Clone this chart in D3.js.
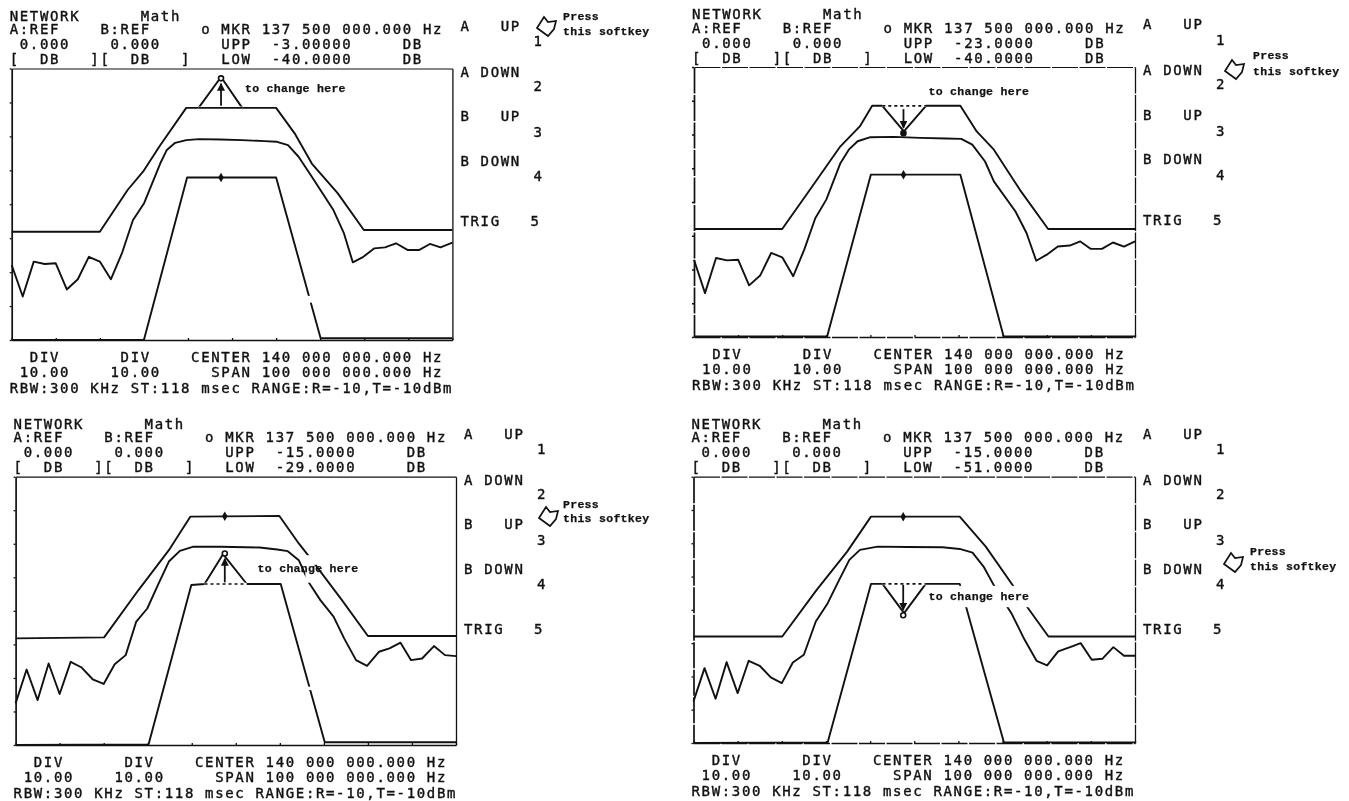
<!DOCTYPE html>
<html>
<head>
<meta charset="utf-8">
<script src="https://cdn.jsdelivr.net/npm/d3@7"></script>
<style>
  html, body { margin: 0; background: #fff; }
  svg { display: block; filter: blur(0.45px); }
  text { white-space: pre; fill: #111; }
  .crt { font-family: "DejaVu Sans Mono", monospace; font-size: 14px; letter-spacing: 1.65px; stroke: #111; stroke-width: 0.4px; }
  .note { font-family: "Liberation Mono", monospace; font-size: 11.5px; font-weight: bold; letter-spacing: 0.3px; stroke: #111; stroke-width: 0.25px; }
</style>
</head>
<body>
<div id="vis"></div>
<script>
// x = MHz (center 140, span 100), y = dB (10 dB/div, 8 div)
var upper1 = [[90,-48.1],[110,-48.1],[116.3,-35.8],[119.8,-30.4],[123.7,-22.6],[129.6,-11.6],[132.4,-11.6],[137.5,-2.5],[142.3,-11.6],[150,-11.6],[154.2,-19.1],[158.1,-28],[164,-36.8],[169.9,-47.6],[190,-47.6]];
var middle1 = [[90,-57.9],[92.5,-67.2],[95,-56.9],[97.5,-57.6],[100,-57.4],[102.5,-65.1],[105,-62.1],[107.5,-55.5],[110,-56.9],[112.5,-62.1],[115,-54.5],[117.5,-44.7],[120,-39.8],[123.7,-28],[125.2,-24],[127.1,-21.9],[129.6,-21.1],[132.5,-20.8],[137.4,-20.9],[142.3,-21.1],[147.3,-21.4],[150.2,-21.6],[152.7,-22.6],[155.1,-26],[158.1,-31.9],[163,-41.7],[165.4,-48.6],[167.4,-57.1],[169.8,-55.5],[172.3,-53],[174.7,-52.7],[177.2,-51.5],[179.9,-53.5],[182.4,-53.5],[184.9,-51.7],[187.3,-52.7],[190,-51.3]];
var lower1 = [[90,-80],[120,-80],[129.8,-32.1],[150,-32.1],[160.1,-79.5],[190,-79.5]];

var upper2 = [[90,-48],[110,-48],[116.8,-35.4],[123.2,-23.5],[127.6,-17.6],[130.4,-11.5],[132.7,-11.5],[137.6,-19.1],[142.6,-11.5],[150.4,-11.5],[154.1,-19.1],[158,-24.5],[163.9,-36.4],[170.3,-48],[190,-48]];
var middle2 = [[90,-57.1],[92.5,-67],[95,-56.6],[97.5,-57.3],[100,-57.1],[102.5,-64.7],[105,-61.8],[107.5,-55.1],[110,-56.4],[112.5,-62],[115,-54.1],[117.5,-44.8],[120,-39.3],[123.2,-28.5],[125.1,-24.5],[127.1,-22],[130,-20.8],[135.4,-20.7],[141.3,-21],[147.2,-21.2],[150.6,-21.3],[153.1,-23],[156,-28],[158,-33.9],[162.9,-42.8],[165.4,-49.2],[167.6,-57.4],[170,-55.6],[172.5,-53.2],[175.2,-52.9],[177.6,-51.7],[180,-53.9],[182.5,-53.9],[185,-52],[187.5,-53.2],[190,-51.7]];
var lower2 = [[90,-79.8],[120.2,-79.8],[130.1,-31.9],[150.4,-31.9],[160.2,-79.8],[190,-79.8]];

var upper3 = [[90,-48.2],[110.1,-47.9],[117.9,-33.8],[124.8,-21.9],[129.7,-11.9],[149.9,-11.7],[154.3,-19.9],[156.7,-23.9],[164.1,-36.8],[170,-47.5],[190,-47.5]];
var middle3 = [[90,-67.6],[92.5,-57.5],[95,-66.6],[97.5,-55.7],[100,-64.8],[102.5,-55.2],[105,-56.9],[107.5,-60.4],[110,-61.8],[112.5,-55.9],[115,-53.2],[117.4,-43.2],[119.9,-39.3],[122.3,-32.3],[124.8,-25.3],[127.3,-22.1],[130.2,-20.9],[136.6,-20.9],[145.4,-21.1],[149.4,-21.7],[151.8,-22.2],[154.3,-24.9],[156.7,-31.8],[159.2,-36.8],[162.2,-41.7],[164.6,-48.2],[167.3,-54.7],[169.8,-56.4],[172.5,-52.2],[174.9,-51.2],[177.4,-49.5],[179.8,-54.7],[182.3,-54.2],[185,-50.5],[187.5,-53.2],[190,-53.5]];
var lower3 = [[90,-80],[120.2,-79.8],[129.9,-32.3],[132.9,-32],[137.1,-23.1],[142.5,-32],[150.2,-32],[160.2,-79.2],[190,-79.2]];

var upper4 = [[90,-48],[110.1,-48],[117.9,-34],[124.8,-22.5],[130.2,-12],[150.3,-12],[156.2,-21],[162.5,-33],[165.5,-39],[170.4,-48],[190,-48]];
var middle4 = [[90,-67.5],[92.5,-57.5],[95,-66.7],[97.5,-55.7],[100,-65],[102.5,-55.3],[105,-56.8],[107.5,-60.3],[110,-62],[112.5,-55.8],[115,-53.5],[117.7,-43.5],[120.4,-38],[122.8,-31.5],[125.3,-25],[127.7,-22],[131.7,-21],[138.5,-21.1],[146.4,-21.2],[150.3,-21.7],[153.2,-22.8],[155.7,-27],[158.6,-34],[162,-41],[165,-49],[167.7,-55.3],[170.1,-56.7],[172.6,-52.5],[175.3,-51.2],[177.7,-50],[180.2,-55],[182.6,-54.7],[185.1,-51.2],[187.5,-53.8],[190,-53.8]];
var lower4 = [[90,-80],[120.4,-79.8],[130.2,-32.2],[132.8,-32.2],[137.7,-41],[142.6,-32.2],[150.3,-32.2],[160.3,-79.8],[190,-79.8]];

var upperLimits = ['-3.00000', '-23.0000', '-15.0000', '-15.0000'];
var lowerLimits = ['-40.0000', '-40.0000', '-29.0000', '-51.0000'];
var softkeys = ['A   UP', 'A DOWN', 'B   UP', 'B DOWN'];

// start dB, end dB of the arrow, marker dB on the other limit line
var arrow1 = [-11, -4.5], arrow2 = [-12.5, -18], arrow3 = [-31.5, -24.5], arrow4 = [-32.5, -40];
var marker1 = -32.1, marker2 = -31.9, marker3 = -11.8, marker4 = -12;
// parts of the paper whited out: [MHz from, MHz to, dB top, dB bottom]
var gaps1 = [[156, 159, -67, -69]];
var gaps2 = [];
var gaps3 = [[155.3, 158.2, -23.4, -26.3], [155.8, 157.5, -27.8, -31.6], [155.5, 158.5, -62.6, -63.6]];
var gaps4 = [[143.4, 167, -32.8, -39.2]];

var panels = [
  { left: 11.7, right: 452.4, top: 68.5, bottom: 340, upper: upper1, middle: middle1, lower: lower1, arrow: arrow1, marker: marker1, gaps: gaps1,
    note: [245, 92], press: [563, 20, 35], icon: [546, 27], frameDash: null },
  { left: 694, right: 1135, top: 67, bottom: 337, upper: upper2, middle: middle2, lower: lower2, arrow: arrow2, marker: marker2, gaps: gaps2,
    note: [928.5, 95], press: [1253, 59, 75], icon: [1234, 70], frameDash: '26 1.5' },
  { left: 15.6, right: 456, top: 476.7, bottom: 745, upper: upper3, middle: middle3, lower: lower3, arrow: arrow3, marker: marker3, gaps: gaps3,
    note: [257.6, 572], press: [563, 508, 522], icon: [548, 517], frameDash: null },
  { left: 693.5, right: 1135, top: 476.7, bottom: 743, upper: upper4, middle: middle4, lower: lower4, arrow: arrow4, marker: marker4, gaps: gaps4,
    note: [928.5, 600], press: [1250, 555, 570], icon: [1233, 563], frameDash: '26 1.5' }
];

var ink = '#111';
var markerMHz = 137.5;

var svg = d3.select('#vis').append('svg')
  .attr('width', 1349)
  .attr('height', 801);

svg.append('defs').append('marker')
  .attr('id', 'head')
  .attr('viewBox', '0 0 8 8')
  .attr('refX', 7).attr('refY', 4)
  .attr('markerWidth', 8).attr('markerHeight', 8)
  .attr('markerUnits', 'userSpaceOnUse')
  .attr('orient', 'auto')
  .append('path').attr('d', 'M0,0L8,4L0,8Z').attr('fill', ink);

function label(g, x, y, str, cls) {
  return g.append('text').attr('class', cls || 'crt').attr('x', x).attr('y', y).text(str);
}

function drawPanel(p, i) {
  var g = svg.append('g').attr('class', 'panel');

  var x = d3.scaleLinear().domain([90, 190]).range([p.left, p.right]);
  var y = d3.scaleLinear().domain([0, -80]).range([p.top, p.bottom]);

  var line = d3.line().x(function(d) { return x(d[0]); }).y(function(d) { return y(d[1]); });

  // frame, the graticule only shows as small bumps on the left and bottom
  var dbTicks = d3.range(-80, 1, 10);
  var mhzTicks = d3.range(90, 191, 10);
  [[d3.axisLeft(y).tickValues(dbTicks).tickSize(2), p.left, 0, 1.7],
   [d3.axisRight(y).tickValues([]), p.right, 0, 1.3],
   [d3.axisTop(x).tickValues([]), 0, p.top, 1.2],
   [d3.axisBottom(x).tickValues(mhzTicks).tickSize(-2), 0, p.bottom, 1.5]].forEach(function(a) {
    var ag = g.append('g')
      .attr('transform', 'translate(' + a[1] + ',' + a[2] + ')')
      .call(a[0].tickFormat('').tickSizeOuter(0));
    ag.select('.domain').attr('stroke', ink).attr('stroke-width', a[3]).attr('stroke-dasharray', p.frameDash);
    ag.selectAll('.tick line').attr('stroke', ink).attr('stroke-width', 1.3);
  });

  [p.upper, p.middle, p.lower].forEach(function(t) {
    g.append('path').attr('d', line(t))
      .attr('fill', 'none').attr('stroke', ink)
      .attr('stroke-width', 1.9).attr('stroke-linejoin', 'round');
  });

  // dotted stretch left behind where the limit line was moved
  var moved = [p.upper, p.upper, p.lower, p.lower][i];
  var flat = moved.filter(function(d) { return Math.abs(d[0] - markerMHz) < 6 && Math.abs(d[0] - markerMHz) > 3; });
  g.append('path').attr('d', line(flat))
    .attr('fill', 'none').attr('stroke', '#fff').attr('stroke-width', 2.6);
  g.append('path').attr('d', line(flat))
    .attr('fill', 'none').attr('stroke', ink)
    .attr('stroke-width', 1.7).attr('stroke-dasharray', i == 0 ? null : '3 3');

  g.selectAll('rect.gap').data(p.gaps).enter().append('rect')
    .attr('class', 'gap')
    .attr('x', function(d) { return x(d[0]); })
    .attr('width', function(d) { return x(d[1]) - x(d[0]); })
    .attr('y', function(d) { return y(d[2]); })
    .attr('height', function(d) { return y(d[3]) - y(d[2]); })
    .attr('fill', '#fff');

  // arrow and open marker on the limit being changed
  g.append('line')
    .attr('x1', x(markerMHz)).attr('x2', x(markerMHz))
    .attr('y1', y(p.arrow[0])).attr('y2', y(p.arrow[1]))
    .attr('stroke', ink).attr('stroke-width', 1.8)
    .attr('marker-end', 'url(#head)');
  g.append('circle')
    .attr('cx', x(markerMHz)).attr('cy', y(p.arrow[1] + (p.arrow[1] > p.arrow[0] ? 1.6 : -1.6)))
    .attr('r', 2.5).attr('fill', i == 1 ? ink : '#fff').attr('stroke', ink).attr('stroke-width', 1.6);
  g.append('path')
    .attr('d', d3.symbol(d3.symbolDiamond, 26)())
    .attr('transform', 'translate(' + x(markerMHz) + ',' + y(p.marker) + ')')
    .attr('fill', ink);

  // screen text, 10 px character cell
  var rows = [
    ['NETWORK      Math', -48],
    ['A:REF    B:REF     o MKR 137 500 000.000 Hz', -34.5],
    [' 0.000    0.000      UPP  ' + upperLimits[i] + '     DB', -19.5],
    ['[  DB   ][  DB   ]   LOW  ' + lowerLimits[i] + '     DB', -4.5]
  ];
  rows.forEach(function(r) { label(g, p.left - 2, p.top + r[1], r[0]); });

  var foot = [
    ['  DIV      DIV    CENTER 140 000 000.000 Hz', 22],
    [' 10.00    10.00     SPAN 100 000 000.000 Hz', 37],
    ['RBW:300 KHz ST:118 msec RANGE:R=-10,T=-10dBm', 52.5]
  ];
  foot.forEach(function(r) { label(g, p.left - 2, p.bottom + r[1], r[0]); });

  // softkey column
  var keyX = p.right + 8;
  softkeys.forEach(function(k, j) {
    label(g, keyX, p.top + [-38, 8, 52.5, 97][j], k);
    label(g, keyX + 73, p.top + [-22.5, 22, 68.5, 112.5][j], String(j + 1));
  });
  label(g, keyX, p.top + 157.5, 'TRIG');
  label(g, keyX + 70, p.top + 157.5, '5');

  // notes pasted on the plot
  label(g, p.note[0], p.note[1], 'to change here', 'note');
  label(g, p.press[0], p.press[1], 'Press', 'note');
  label(g, p.press[0], p.press[2], 'this softkey', 'note');
  g.append('path')
    .attr('d', 'M-9,1L-2,-10L2,-5L10,-6L8,2L2,9Z')
    .attr('transform', 'translate(' + p.icon[0] + ',' + p.icon[1] + ')')
    .attr('fill', '#fff').attr('stroke', ink).attr('stroke-width', 1.7);
}

panels.forEach(drawPanel);
</script>
</body>
</html>
